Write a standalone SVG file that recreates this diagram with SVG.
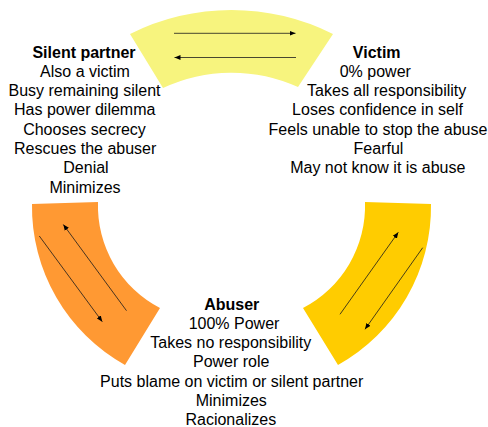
<svg xmlns="http://www.w3.org/2000/svg" width="488" height="427" viewBox="0 0 488 427">
<style>
text{font-family:"Liberation Sans",Arial,sans-serif;font-size:16px;fill:#000;text-anchor:middle}
.t{font-weight:bold}
.arc{stroke:none}
.ar{stroke:#1a1a1a;stroke-width:0.8;fill:none;marker-end:url(#ah)}
</style>
<defs>
<marker id="ah" markerUnits="userSpaceOnUse" markerWidth="8" markerHeight="6" refX="6" refY="3" orient="auto">
<path d="M0,0.5 L6,3 L0,5.5 Z" fill="#000"/>
</marker>
</defs>
<g id="arc-top"><path class="arc" fill="#F7F47E" d="M130,34 A226,226 0 0 1 333,34 L298,87 A161,161 0 0 0 163,88 Z"/></g>
<g id="arc-left"><path class="arc" fill="#FF9933" d="M32,204 L98,202 A115,115 0 0 0 160,308 L125,365 A181,181 0 0 1 32,204 Z"/></g>
<g id="arc-right"><path class="arc" fill="#FFCC00" d="M431,204 L365,202 A115,115 0 0 1 303,308 L338,365 A181,181 0 0 0 431,204 Z"/></g>
<g id="connectors">
<line class="ar" x1="174" y1="33.3" x2="295.5" y2="33.3"/>
<line class="ar" x1="296" y1="57.5" x2="174.5" y2="57.5"/>
<line class="ar" x1="39.3" y1="236" x2="102.3" y2="321.7"/>
<line class="ar" x1="126.5" y1="310.7" x2="63.3" y2="224.5"/>
<line class="ar" x1="340" y1="314.3" x2="398.3" y2="232.3"/>
<line class="ar" x1="422.7" y1="247.7" x2="365" y2="329.3"/>
</g>
<g id="silent-partner">
<text class="t" x="84" y="57.5">Silent partner</text>
<text x="85" y="76.8">Also a victim</text>
<text x="84.5" y="96.1">Busy remaining silent</text>
<text x="84.7" y="115.4">Has power dilemma</text>
<text x="84.5" y="134.7">Chooses secrecy</text>
<text x="85.2" y="154">Rescues the abuser</text>
<text x="86" y="173.3">Denial</text>
<text x="85" y="192.6">Minimizes</text>
</g>
<g id="victim">
<text class="t" x="376.7" y="57.5">Victim</text>
<text x="375.3" y="76.8">0% power</text>
<text x="386.7" y="96.1">Takes all responsibility</text>
<text x="377.5" y="115.4">Loses confidence in self</text>
<text x="378" y="134.7">Feels unable to stop the abuse</text>
<text x="378.5" y="154">Fearful</text>
<text x="377.8" y="173.3">May not know it is abuse</text>
</g>
<g id="abuser">
<text class="t" x="231.7" y="309.5">Abuser</text>
<text x="234" y="328.8">100% Power</text>
<text x="230.8" y="348.1">Takes no responsibility</text>
<text x="231.2" y="367.4">Power role</text>
<text x="231.7" y="386.7">Puts blame on victim or silent partner</text>
<text x="231.3" y="406">Minimizes</text>
<text x="230.8" y="424.8">Racionalizes</text>
</g>
</svg>
